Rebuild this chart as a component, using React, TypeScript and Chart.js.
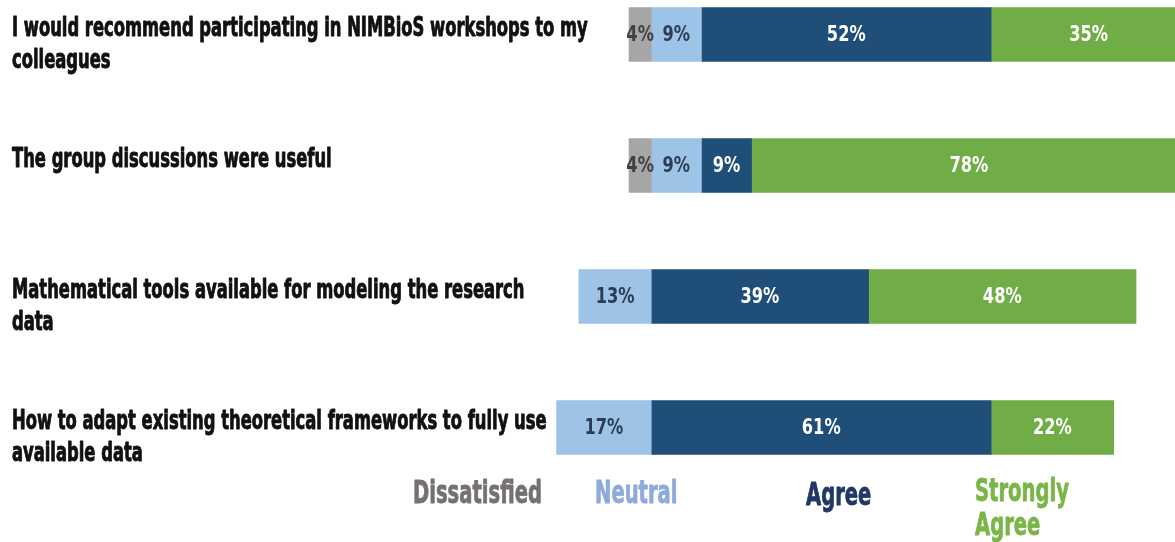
import React, { useEffect, useRef } from 'react';
import { Chart, registerables } from 'chart.js';

Chart.register(...registerables);

// ---------- data ----------
const categories: string[][] = [
  ['I would recommend participating in NIMBioS workshops to my', 'colleagues'],
  ['The group discussions were useful'],
  ['Mathematical tools available for modeling the research', 'data'],
  ['How to adapt existing theoretical frameworks to fully use', 'available data'],
];
const seriesNames = ['Dissatisfied', 'Neutral', 'Agree', 'Strongly Agree'];
const dissatisfied: (number | null)[] = [4, 4, null, null];
const neutral: (number | null)[] = [9, 9, 13, 17];
const agree: (number | null)[] = [52, 9, 39, 61];
const stronglyAgree: (number | null)[] = [35, 78, 48, 22];
// value on the % scale where each row's bar begins
const barStart = [-4, -4, -13, -17];

// ---------- style ----------
const FONT = '"Liberation Sans Narrow", "Arial Narrow", "DejaVu Sans Condensed", "Liberation Sans", sans-serif';
const barColors = ['#a6a6a6', '#9dc3e6', '#1f4e79', '#70ad47'];
const valueColors = ['#404040', '#2a3d57', '#ffffff', '#ffffff'];
const legendColors = ['#767171', '#8eaadb', '#1f3864', '#7ab547'];
const legendX = [413, 595, 806, 975];

function drawText(
  ctx: CanvasRenderingContext2D,
  text: string,
  x: number,
  y: number,
  sx: number,
  stroke = 0
) {
  ctx.save();
  ctx.translate(x, y);
  ctx.scale(sx, 1);
  ctx.fillText(text, 0, 0);
  if (stroke > 0) {
    ctx.lineWidth = stroke;
    ctx.strokeStyle = ctx.fillStyle as string;
    ctx.lineJoin = 'round';
    ctx.strokeText(text, 0, 0);
  }
  ctx.restore();
}

export default function App() {
  const ref = useRef<HTMLCanvasElement | null>(null);

  useEffect(() => {
    if (!ref.current) return;
    const series = [dissatisfied, neutral, agree, stronglyAgree];
    const cursor = barStart.slice();
    const ranges = series.map(() => [] as ([number, number] | null)[]);
    for (let i = 0; i < categories.length; i++) {
      series.forEach((s, d) => {
        const v = s[i];
        if (v == null) {
          ranges[d].push(null);
        } else {
          ranges[d].push([cursor[i], cursor[i] + v]);
          cursor[i] += v;
        }
      });
    }

    const textPlugin = {
      id: 'textPlugin',
      afterDatasetsDraw(chart: any) {
        const ctx = chart.ctx as CanvasRenderingContext2D;
        const yScale = chart.scales.y;
        ctx.save();
        // category labels
        ctx.fillStyle = '#111111';
        ctx.textAlign = 'left';
        ctx.textBaseline = 'middle';
        ctx.font = `bold 26px ${FONT}`;
        categories.forEach((lines, i) => {
          const yc = yScale.getPixelForValue(i);
          lines.forEach((ln, k) => drawText(ctx, ln, 12, yc - 5 + k * 32, 0.7, 0.9));
        });
        // value labels
        ctx.textAlign = 'center';
        ctx.font = `bold 21px ${FONT}`;
        series.forEach((s, d) => {
          const meta = chart.getDatasetMeta(d);
          meta.data.forEach((el: any, i: number) => {
            const v = s[i];
            if (v == null) return;
            const p = el.getProps(['x', 'base', 'y'], true);
            ctx.fillStyle = valueColors[d];
            drawText(ctx, `${v}%`, (p.x + p.base) / 2, p.y + 1, 0.86);
          });
        });
        // legend
        ctx.textAlign = 'left';
        ctx.font = `bold 32px ${FONT}`;
        seriesNames.forEach((name, d) => {
          const lines = name === 'Strongly Agree' ? name.split(' ') : [name];
          ctx.fillStyle = legendColors[d];
          lines.forEach((ln, k) =>
            drawText(ctx, ln, legendX[d], (d === 3 ? 493 : d === 2 ? 497 : 495) + k * 34, 0.68, 0.8)
          );
        });
        ctx.restore();
      },
    };

    const chart = new Chart(ref.current, {
      type: 'bar',
      data: {
        labels: categories.map((c) => c.join(' ')),
        datasets: seriesNames.map((name, d) => ({
          label: name,
          data: ranges[d] as any,
          backgroundColor: barColors[d],
          borderWidth: 0,
          barThickness: 54,
          grouped: false,
          clip: false as any,
        })),
      },
      options: {
        indexAxis: 'y',
        responsive: false,
        devicePixelRatio: 1,
        animation: false,
        layout: { padding: { left: 551, right: 0, top: 34.5, bottom: 114.5 } },
        scales: {
          x: { type: 'linear', min: -18, max: 94, display: false },
          y: { type: 'category', offset: false, display: false },
        },
        plugins: {
          legend: { display: false },
          tooltip: { enabled: false },
        },
      },
      plugins: [textPlugin],
    });
    return () => chart.destroy();
  }, []);

  return (
    <div style={{ position: 'absolute', left: 0, top: 0, width: 1175, height: 542, background: '#ffffff' }}>
      <canvas ref={ref} width={1175} height={542} />
    </div>
  );
}
